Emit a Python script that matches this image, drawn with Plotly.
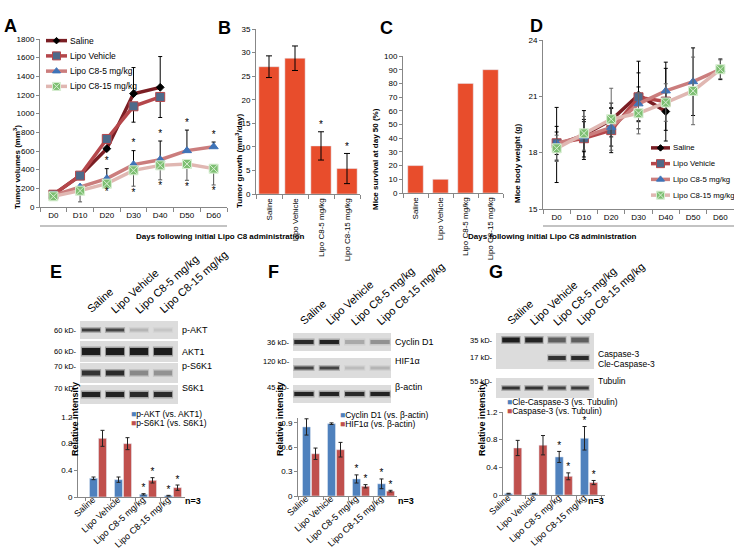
import plotly.graph_objects as go

W, H = 734, 548
FONT = "Liberation Sans, Arial, sans-serif"
AX = "#878787"
ORANGE = "#E84D2C"
BLUE = "#4F81BD"
RED = "#C0504D"

# ---------------- data ----------------
days = ["D0", "D10", "D20", "D30", "D40", "D50", "D60"]
groups = ["Saline", "Lipo Vehicle", "Lipo C8-5 mg/kg", "Lipo C8-15 mg/kg"]

# A: tumour volumes (mm3)
vol_saline = [132, 336, 625, 1214, 1282]
vol_vehicle = [132, 336, 729, 1079, 1179]
vol_c8_5 = [125, 214, 304, 454, 507, 604, 646]
vol_c8_15 = [114, 175, 250, 393, 446, 461, 411]
vol_saline_up = [0, 0, 0, 280, 330]
vol_vehicle_down = [0, 0, 0, 170, 220]
vol_c8_5_up = [0, 0, 107, 150, 200, 220, 50]
vol_c8_15_down = [0, 120, 25, 170, 155, 175, 175]
vol_star = [False, False, True, True, True, True, True]

# B: tumour growth (mm3/day)
growth = [27.0, 28.8, 10.2, 5.4]
growth_err = [2.3, 2.6, 3.0, 3.2]
growth_star = [False, False, True, True]

# C: survival at day 50 (%)
survival = [20, 10, 80, 90]

# D: body weight (g)
wt_saline = [18.41, 18.94, 19.74, 21.07, 20.19]
wt_vehicle = [18.50, 18.77, 19.20, 20.95, 20.72]
wt_c8_5 = [18.50, 18.85, 19.35, 20.60, 21.29, 21.78, 22.44]
wt_c8_15 = [18.23, 19.03, 19.78, 20.10, 20.67, 21.29, 22.44]
wt_saline_err = [2.0, 1.3, 0.9, 1.8, 1.0]
wt_vehicle_err = [0.9, 1.0, 1.2, 1.3, 2.1]
wt_c8_5_err = [0.6, 0.8, 1.0, 0.9, 1.2, 1.8, 0.55]
wt_c8_15_err = [0.7, 0.9, 1.65, 1.1, 1.0, 1.8, 0.5]

# E: relative intensity
pakt = [0.28, 0.26, 0.04, 0.02]
pakt_err = [0.02, 0.04, 0.01, 0.005]
ps6k1 = [0.88, 0.80, 0.25, 0.14]
ps6k1_err = [0.12, 0.09, 0.04, 0.04]
e_star = [False, False, True, True]

# F
cyclin = [0.85, 0.89, 0.21, 0.15]
cyclin_err = [0.10, 0.01, 0.05, 0.06]
hif = [0.52, 0.57, 0.12, 0.06]
hif_err = [0.07, 0.09, 0.02, 0.01]
f_star = [False, False, True, True]

# G
cle_casp = [0.02, 0.02, 0.55, 0.82]
cle_casp_err = [0.005, 0.005, 0.08, 0.17]
casp = [0.68, 0.72, 0.27, 0.18]
casp_err = [0.11, 0.14, 0.05, 0.03]
g_star = [False, False, True, True]

# western blot band intensities (0..1), lanes = groups
blot_e_rows = ["p-AKT", "AKT1", "p-S6K1", "S6K1"]
blot_e_kd = ["60 kD-", "60 kD-", "70 kD-", "70 kD-"]
blot_e_int = [[0.75, 0.7, 0.15, 0.08], [0.95, 0.95, 0.95, 0.95],
              [0.8, 0.85, 0.35, 0.3], [0.9, 0.9, 0.85, 0.85]]
blot_f_rows = ["Cyclin D1", "HIF1α", "β-actin"]
blot_f_kd = ["36 kD-", "120 kD-", "45 kD-"]
blot_f_int = [[0.85, 0.9, 0.2, 0.3], [0.7, 0.7, 0.12, 0.15],
              [0.9, 0.9, 0.85, 0.9]]
blot_g_rows = ["Caspase-3", "Cle-Caspase-3", "Tubulin"]
blot_g_kd = ["35 kD-", "17 kD-", "55 kD-"]
blot_g_int = [[0.95, 0.9, 0.55, 0.55], [0.0, 0.0, 0.8, 0.85],
              [0.8, 0.8, 0.7, 0.75]]


# ---------------- helpers ----------------
def dx(a, b):
    return [a / W, b / W]


def dy(top, bottom):
    return [1 - bottom / H, 1 - top / H]


def fx(x):
    return x / W


def fy(y):
    return 1 - y / H


annotations = []
shapes = []


def ann(x, y, text, size=8, bold=False, **kw):
    if bold:
        text = "<b>" + text + "</b>"
    d = dict(x=fx(x), y=fy(y), xref="paper", yref="paper", text=text,
             showarrow=False, font=dict(size=size, family=FONT, color="black"))
    d.update(kw)
    annotations.append(d)


def axis(domain, **kw):
    a = dict(domain=domain, showline=True, linecolor=AX, linewidth=1,
             ticks="outside", ticklen=3, tickcolor=AX,
             tickfont=dict(size=8, family=FONT, color="black"),
             showgrid=False, zeroline=False, fixedrange=True, automargin=False)
    a.update(kw)
    return a


def hidden(domain, rng):
    return dict(domain=domain, range=rng, visible=False, fixedrange=True)


fig = go.Figure()

line_style = {
    "Saline": dict(color="#7A1E24", symbol="diamond", size=6, fill="#000000", edge="#000000"),
    "Lipo Vehicle": dict(color="#B5474B", symbol="square", size=9, fill="#4D6A8A", edge="#B5474B"),
    "Lipo C8-5 mg/kg": dict(color="#CB7D7D", symbol="triangle-up", size=8, fill="#3F74B8", edge="#3F74B8"),
    "Lipo C8-15 mg/kg": dict(color="#E0B7B2", symbol="square-x", size=9, fill="#7DBF72", edge="#D8EED2"),
}


def add_line(name, xs, ys, err, xa, ya, ecolor="black"):
    st = line_style[name]
    fig.add_trace(go.Scatter(
        x=xs, y=ys, mode="lines+markers", xaxis=xa, yaxis=ya,
        line=dict(color=st["color"], width=3.5),
        marker=dict(symbol=st["symbol"], size=st["size"], color=st["fill"],
                    line=dict(color=st["edge"], width=1)),
        error_y=dict(err, color=ecolor, thickness=1, width=2),
        showlegend=False, hoverinfo="skip"))


def add_legend(xa, ya):
    for i, name in enumerate(groups):
        st = line_style[name]
        fig.add_trace(go.Scatter(x=[0, 1], y=[i, i], mode="lines", xaxis=xa, yaxis=ya,
                                 line=dict(color=st["color"], width=3.5),
                                 showlegend=False, hoverinfo="skip"))
        fig.add_trace(go.Scatter(x=[0.5], y=[i], mode="markers", xaxis=xa, yaxis=ya,
                                 marker=dict(symbol=st["symbol"], size=st["size"] - 1,
                                             color=st["fill"],
                                             line=dict(color=st["edge"], width=1)),
                                 showlegend=False, hoverinfo="skip"))


def stars(xa, ya, xs, ys, pos):
    fig.add_trace(go.Scatter(x=xs, y=ys, mode="text", text=["*"] * len(xs),
                             textposition=pos, xaxis=xa, yaxis=ya,
                             textfont=dict(size=10, family=FONT, color="black"),
                             showlegend=False, hoverinfo="skip"))


# ---------------- A ----------------
add_line("Saline", days[:5], vol_saline,
         dict(type="data", symmetric=False, array=vol_saline_up, arrayminus=[0] * 5), "x", "y")
add_line("Lipo Vehicle", days[:5], vol_vehicle,
         dict(type="data", symmetric=False, array=[0] * 5, arrayminus=vol_vehicle_down), "x", "y")
add_line("Lipo C8-5 mg/kg", days, vol_c8_5,
         dict(type="data", symmetric=False, array=vol_c8_5_up, arrayminus=[0] * 7), "x", "y")
add_line("Lipo C8-15 mg/kg", days, vol_c8_15,
         dict(type="data", symmetric=False, array=[0] * 7, arrayminus=vol_c8_15_down), "x", "y",
         ecolor="#555555")
sd = [d for d, s in zip(days, vol_star) if s]
stars("x", "y", sd, [v + u + 20 for v, u, s in zip(vol_c8_5, vol_c8_5_up, vol_star) if s], "top center")
stars("x", "y", sd, [v - d - 20 for v, d, s in zip(vol_c8_15, vol_c8_15_down, vol_star) if s], "bottom center")
add_legend("x11", "y11")

# ---------------- B ----------------
fig.add_trace(go.Bar(x=groups, y=growth, width=0.78, marker_color=ORANGE, xaxis="x2", yaxis="y2",
                     error_y=dict(type="data", array=growth_err, color="black", thickness=1, width=3),
                     showlegend=False, hoverinfo="skip"))
stars("x2", "y2", [g for g, s in zip(groups, growth_star) if s],
      [v + e + 0.3 for v, e, s in zip(growth, growth_err, growth_star) if s], "top center")

# ---------------- C ----------------
fig.add_trace(go.Bar(x=groups, y=survival, width=0.62, marker_color=ORANGE, xaxis="x3", yaxis="y3",
                     showlegend=False, hoverinfo="skip"))

# ---------------- D ----------------
add_line("Saline", days[:5], wt_saline, dict(type="data", array=wt_saline_err), "x4", "y4")
add_line("Lipo Vehicle", days[:5], wt_vehicle, dict(type="data", array=wt_vehicle_err), "x4", "y4")
add_line("Lipo C8-5 mg/kg", days, wt_c8_5, dict(type="data", array=wt_c8_5_err), "x4", "y4")
add_line("Lipo C8-15 mg/kg", days, wt_c8_15, dict(type="data", array=wt_c8_15_err), "x4", "y4",
         ecolor="#666666")
add_legend("x12", "y12")


# ---------------- E/F/G quantification ----------------
def grouped(xa, ya, s1, e1, s2, e2, star):
    xs = list(range(len(groups)))
    for vals, errs, col, off in ((s1, e1, BLUE, -0.34), (s2, e2, RED, 0.02)):
        fig.add_trace(go.Bar(x=xs, y=vals, offset=off, width=0.32, marker_color=col,
                             xaxis=xa, yaxis=ya,
                             error_y=dict(type="data", array=errs, color="#222222",
                                          thickness=1, width=2),
                             showlegend=False, hoverinfo="skip"))
        stars(xa, ya, [x + off + 0.16 for x, s in zip(xs, star) if s],
              [v + e for v, e, s in zip(vals, errs, star) if s], "top center")


grouped("x5", "y5", pakt, pakt_err, ps6k1, ps6k1_err, e_star)
grouped("x6", "y6", cyclin, cyclin_err, hif, hif_err, f_star)
grouped("x7", "y7", cle_casp, cle_casp_err, casp, casp_err, g_star)


# ---------------- blots ----------------
def blot(xa, ya, strips, band_y, band_w, intens, x_left, x_right, top, kd_y, lab_y, kd, labs, lab_size):
    n = xa.replace("x", "")
    for s0, s1 in strips:
        shapes.append(dict(type="rect", xref="x%s domain" % n, yref="y" + n, x0=0, x1=1,
                           y0=s0, y1=s1, fillcolor="#DCDCDC", line_width=0, layer="below"))
    for r, row in enumerate(intens):
        for j, v in enumerate(row):
            if v <= 0:
                continue
            for w, op, hw in ((band_w[r] + 3, 0.3, 0.42), (band_w[r], 1.0, 0.38)):
                fig.add_trace(go.Scatter(x=[j - hw, j + hw], y=[band_y[r]] * 2, mode="lines",
                                         xaxis=xa, yaxis="y" + n,
                                         line=dict(color="#161616", width=w), opacity=v * op,
                                         showlegend=False, hoverinfo="skip"))
    for k, t in zip(kd_y, kd):
        ann(x_left - 1, top + k, t, size=7.5, xanchor="right")
    for k, t in zip(lab_y, labs):
        ann(x_right + 2, top + k, t, size=lab_size, xanchor="left")
    for j, g in enumerate(groups):
        annotations.append(dict(x=j, y=fy(top - 3), xref=xa, yref="paper", text=g, showarrow=False,
                                textangle=-42, xanchor="left", yanchor="bottom", xshift=-9,
                                font=dict(size=11, family=FONT, color="black")))


blot("x8", "y8", [(0, 18), (20, 41), (42, 62), (64, 83)], [9, 30.5, 52, 73.5], [3, 7, 5, 5],
     blot_e_int, 80, 178, 321, [9, 30.5, 52, 73.5], [9, 30.5, 52, 73.5], blot_e_kd, blot_e_rows, 9)
blot("x9", "y9", [(0, 18), (25, 45), (52, 70)], [9, 35, 61], [4, 3, 4],
     blot_f_int, 293, 391, 333, [9, 35, 61], [9, 35, 61], blot_f_kd, blot_f_rows, 9)
blot("x10", "y10", [(0, 36), (45, 65)], [7, 25, 55], [5, 4, 3],
     blot_g_int, 496, 594, 333, [7, 24, 55], [21, 31, 55], blot_g_kd, blot_g_rows, 8.5)

# ---------------- annotations ----------------
for lab, x, y in (("A", 2, 14), ("B", 216, 16), ("C", 378, 16), ("D", 528, 14),
                  ("E", 48, 272), ("F", 266, 272), ("G", 487, 272)):
    ann(x, y, lab, size=18, bold=True, xanchor="left")

ann(10, 123, "Tumor volumes (mm<sup>3</sup>)", 8, True, textangle=-90)
ann(232, 112, "Tumor growth (mm<sup>3</sup>/day)", 8, True, textangle=-90)
ann(375, 106, "Mice survival at day 50 (%)", 8, True, textangle=-90)
ann(524, 122, "Mice body weight (g)", 8, True, textangle=-90)
for x in (68, 280, 482):
    ann(x, 458, "Relative intensity", 9, True, textangle=-90)

for x0, x1 in ((40, 227), (543, 734)):
    shapes.append(dict(type="line", xref="paper", yref="paper", x0=fx(x0), x1=fx(x1),
                       y0=fy(226), y1=fy(226), line=dict(color=AX, width=1)))
    ann((x0 + x1) / 2, 236, "Days following initial Lipo C8 administration", 8, True)

for i, name in enumerate(groups):
    annotations.append(dict(x=fx(68), y=i, xref="paper", yref="y11", text=name, showarrow=False,
                            xanchor="left", font=dict(size=8.5, family=FONT, color="black")))
    annotations.append(dict(x=fx(671), y=i, xref="paper", yref="y12", text=name, showarrow=False,
                            xanchor="left", font=dict(size=7.8, family=FONT, color="black")))

for x, y, names in ((129, 421, ["p-AKT (vs. AKT1)", "p-S6K1 (vs. S6K1)"]),
                    (338, 422, ["Cyclin D1 (vs. β-actin)", "HIF1α (vs. β-actin)"]),
                    (505, 409, ["Cle-Caspase-3 (vs. Tubulin)", "Caspase-3 (vs. Tubulin)"])):
    for k, (name, col) in enumerate(zip(names, (BLUE, RED))):
        ann(x, y + k * 9, '<span style="color:%s">■</span>%s' % (col, name), 8.5, xanchor="left")

for x in (183, 406, 606):
    ann(x, 508, "n=3", 9, True)

# ---------------- layout ----------------
cat_x = dict(type="category", tickson="boundaries", ticklen=4)
bar_x = dict(range=None, tickvals=list(range(4)), ticktext=groups, tickangle=-42, ticks="",
             tickfont=dict(size=9, family=FONT, color="black"),
             ticklabelstandoff=-7, ticklabelshift=-5,
             minor=dict(tick0=0.5, dtick=1, ticks="outside", ticklen=3, tickcolor=AX))

fig.update_layout(
    width=W, height=H, margin=dict(l=0, r=0, t=0, b=0, autoexpand=False),
    paper_bgcolor="white", plot_bgcolor="rgba(0,0,0,0)", showlegend=False,
    font=dict(family=FONT, color="black"),
    barmode="overlay",
    xaxis=axis(dx(40, 227), anchor="y", categoryarray=days, range=[-0.5, 6.5], **cat_x),
    yaxis=axis(dy(39, 207), anchor="x", range=[0, 1800], dtick=200),
    xaxis2=axis(dx(256, 360), anchor="y2", tickangle=-90, **cat_x),
    yaxis2=axis(dy(29, 194), anchor="x2", range=[0, 35], dtick=5),
    xaxis3=axis(dx(403, 503), anchor="y3", tickangle=-90, **cat_x),
    yaxis3=axis(dy(56, 193), anchor="x3", range=[0, 100], dtick=10),
    xaxis4=axis(dx(543, 734), anchor="y4", categoryarray=days, range=[-0.5, 6.5], **cat_x),
    yaxis4=axis(dy(40, 209), anchor="x4", range=[15, 24], dtick=3),
    xaxis5=axis(dx(78, 185), anchor="y5", **dict(bar_x, range=[-0.8, 3.48])),
    yaxis5=axis(dy(417, 497), anchor="x5", range=[0, 1.2], dtick=0.4),
    xaxis6=axis(dx(298, 397), anchor="y6", **dict(bar_x, range=[-0.52, 3.44])),
    yaxis6=axis(dy(418, 496), anchor="x6", range=[0, 0.96], dtick=0.3),
    xaxis7=axis(dx(503, 605), anchor="y7", **dict(bar_x, range=[-0.4, 3.63])),
    yaxis7=axis(dy(412, 495), anchor="x7", range=[0, 1.2], dtick=0.4),
    xaxis8=hidden(dx(80, 178), [-0.46, 3.625]),
    yaxis8=hidden(dy(321, 404), [83, 0]),
    xaxis9=hidden(dx(293, 391), [-0.43, 3.43]),
    yaxis9=hidden(dy(333, 403), [70, 0]),
    xaxis10=hidden(dx(496, 594), [-0.65, 3.61]),
    yaxis10=hidden(dy(333, 398), [65, 0]),
    xaxis11=hidden(dx(46, 67), [0, 1]),
    yaxis11=hidden(dy(33, 94), [3.5, -0.5]),
    xaxis12=hidden(dx(651, 670), [0, 1]),
    yaxis12=hidden(dy(140, 203), [3.5, -0.5]),
    annotations=annotations,
    shapes=shapes,
)
for i in range(8, 13):
    fig.layout["xaxis%d" % i].anchor = "y%d" % i
    fig.layout["yaxis%d" % i].anchor = "x%d" % i

# page body has a default 8px margin; drop it so the figure sits at the window origin
fig.write_html("out.html", config={"displayModeBar": False},
               post_script="document.body.style.margin='0';")
